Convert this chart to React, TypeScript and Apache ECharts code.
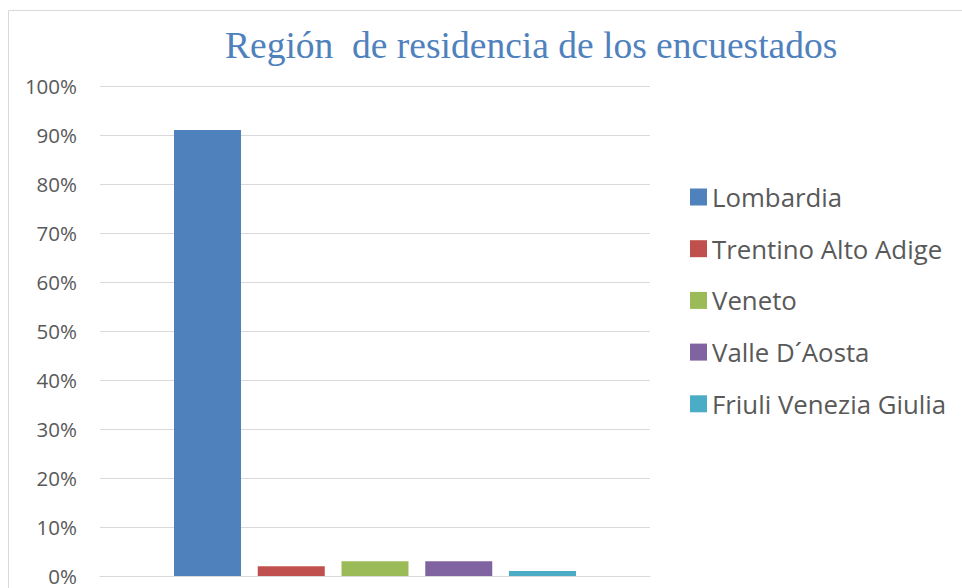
import React, { useEffect, useRef } from "react";
import * as echarts from "echarts";

const titleText = "Región  de residencia de los encuestados";
const categories = [""];
const regions = ["Lombardia", "Trentino Alto Adige", "Veneto", "Valle D´Aosta", "Friuli Venezia Giulia"];
const shares = [91, 2, 3, 3, 1];
const colors = ["#4f81bd", "#c0504d", "#9bbb59", "#8064a2", "#4bacc6"];

export default function App() {
  const ref = useRef<HTMLDivElement>(null);
  useEffect(() => {
    if (!ref.current) return;
    const chart = echarts.init(ref.current, null, { renderer: "svg" });
    chart.setOption({
      animation: false,
      backgroundColor: "#ffffff",
      title: {
        text: titleText,
        left: 225,
        top: 26,
        padding: 0,
        textStyle: {
          fontFamily: "'Liberation Serif', 'DejaVu Serif', serif",
          fontSize: 37.5,
          fontWeight: "normal",
          color: "#4f81bd",
        },
      },
      graphic: [
        {
          type: "rect",
          shape: { x: 8.5, y: 10.5, width: 1000, height: 1000 },
          style: { fill: "none", stroke: "#d9d9d9", lineWidth: 1 },
          silent: true,
        },
      ],
      legend: {
        orient: "vertical",
        left: 690,
        top: 183,
        padding: 0,
        itemWidth: 17,
        itemHeight: 17,
        itemGap: 23.7,
        icon: "rect",
        data: regions,
        textStyle: {
          fontFamily: "'Open Sans', Lato, sans-serif",
          fontSize: 25.8,
          lineHeight: 28,
          color: "#595959",
        },
      },
      grid: { left: 100, top: 86, width: 550, bottom: 12, containLabel: false },
      xAxis: {
        type: "category",
        data: categories,
        axisLine: { show: true, lineStyle: { color: "#d9d9d9", width: 1 } },
        axisTick: { show: false },
        axisLabel: { show: false },
      },
      yAxis: {
        type: "value",
        min: 0,
        max: 100,
        interval: 10,
        axisLine: { show: false },
        axisTick: { show: false },
        splitLine: { lineStyle: { color: "#d9d9d9", width: 1 } },
        axisLabel: {
          formatter: "{value}%",
          margin: 23,
          fontFamily: "'Open Sans', Lato, sans-serif",
          fontSize: 20.5,
          lineHeight: 16,
          color: "#595959",
        },
      },
      series: regions.map((name, i) => ({
        name,
        type: "bar",
        data: [shares[i]],
        barWidth: 67,
        barGap: "25%",
        itemStyle: { color: colors[i] },
      })),
    });
    return () => chart.dispose();
  }, []);
  return (
    <div
      ref={ref}
      style={{ position: "fixed", left: 0, top: 0, width: 962, height: 588 }}
    />
  );
}
